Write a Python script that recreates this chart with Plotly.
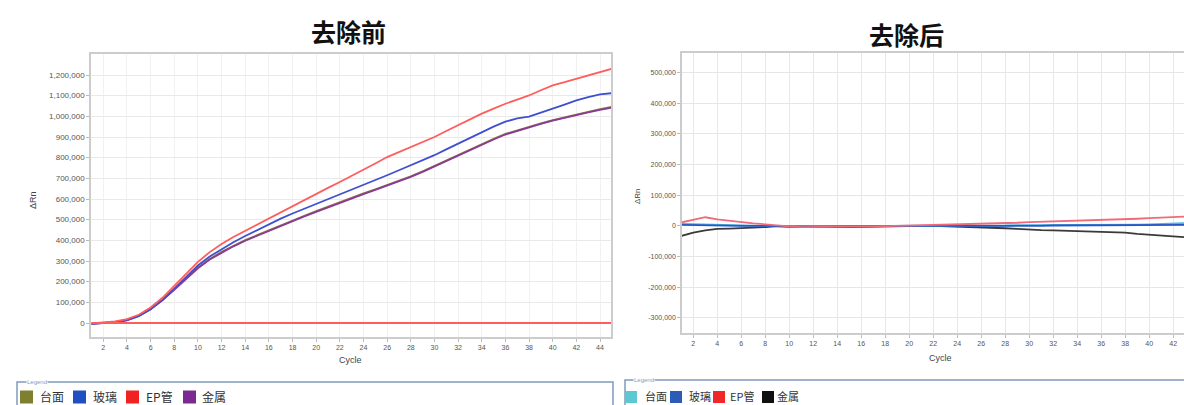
import plotly.graph_objects as go

W, H = 1184, 405

# ---------------- data ----------------
series_names = ["台面", "玻璃", "EP管", "金属"]

cycles_before = list(range(1, 46))
before_taimian = [-3000, 0, 5000, 15000, 35000, 68000, 112000, 163000, 218000, 268000,
                  310000, 344000, 374000, 401000, 425000, 449000, 473000, 497000, 519000, 541000,
                  563000, 585000, 606000, 627000, 647000, 667000, 689000, 710000, 734000, 760000,
                  788000, 815000, 841000, 866000, 891000, 915000, 933000, 950000, 966000, 982000,
                  996000, 1010000, 1023000, 1035000, 1046000]
before_boli = [-4000, -1000, 3000, 13000, 33000, 66000, 112000, 166000, 224000, 278000,
               322000, 358000, 391000, 421000, 450000, 478000, 505000, 530000, 553000, 576000,
               598000, 620000, 643000, 667000, 691000, 715000, 739000, 763000, 787000, 812000,
               840000, 868000, 896000, 924000, 950000, 974000, 990000, 999000, 1017000, 1037000,
               1057000, 1077000, 1093000, 1106000, 1112000]
before_ep = [-2000, 2000, 8000, 19000, 40000, 75000, 122000, 180000, 240000, 296000,
             343000, 382000, 416000, 446000, 476000, 507000, 538000, 568000, 597000, 626000,
             654000, 682000, 711000, 741000, 772000, 803000, 828000, 852000, 876000, 900000,
             929000, 957000, 985000, 1013000, 1037000, 1061000, 1081000, 1101000, 1126000, 1150000,
             1166000, 1182000, 1199000, 1215000, 1230000]
before_jinshu = [-4000, -1000, 4000, 14000, 34000, 67000, 110000, 161000, 215000, 265000,
                 307000, 341000, 371000, 398000, 422000, 446000, 470000, 494000, 516000, 538000,
                 560000, 582000, 603000, 624000, 644000, 664000, 686000, 707000, 731000, 757000,
                 785000, 812000, 838000, 863000, 888000, 912000, 930000, 947000, 963000, 979000,
                 993000, 1006000, 1019000, 1031000, 1042000]
before_ep_blank = [0, 0, 0, 0, 0, 0, 0, 0, 0, 0, 0, 0, 0, 0, 0,
                   0, 0, 0, 0, 0, 0, 0, 0, 0, 0, 0, 0, 0, 0, 0,
                   0, 0, 0, 0, 0, 0, 0, 0, 0, 0, 0, 0, 0, 0, 0]

cycles_after = list(range(1, 44))
after_taimian = [6000, 5000, 3000, 3000, 2000, 1000, 1000, 0, 0, -1000,
                 -1000, -1000, -1000, -1000, -1000, -1000, 0, 0, 0, 0,
                 0, 0, 0, 0, 1000, 1000, 1000, 1000, 2000, 2000,
                 2000, 2000, 3000, 3000, 3000, 3000, 4000, 4000, 4000, 5000,
                 6000, 8000, 9000]
after_boli = [3000, 2000, 1000, 1000, 1000, 0, 0, 0, -1000, -3000,
              -3000, -3000, -3000, -3000, -3000, -3000, -3000, -1000, 0, 0,
              0, 0, -2000, -2000, -2000, -2000, -2000, -1000, 0, 0,
              0, 1000, 1000, 1000, 1000, 2000, 2000, 2000, 2000, 2000,
              3000, 3000, 3000]
after_ep = [11000, 20000, 28000, 21000, 16000, 11000, 8000, 5000, 1000, -2000,
            -4000, -4000, -4000, -4000, -3000, -3000, -2000, -1000, 0, 0,
            0, 1000, 2000, 3000, 4000, 6000, 8000, 9000, 10000, 12000,
            13000, 14000, 16000, 17000, 18000, 19000, 20000, 22000, 23000, 25000,
            27000, 29000, 30000]
after_jinshu = [-33000, -22000, -15000, -10000, -9000, -8000, -6000, -4000, -1000, -2000,
                -3000, -3000, -4000, -4000, -4000, -3000, -2000, -1000, 0, 0,
                0, 0, -1000, -2000, -3000, -4000, -6000, -8000, -10000, -13000,
                -14000, -15000, -16000, -18000, -19000, -20000, -21000, -22000, -26000, -29000,
                -31000, -34000, -37000]

before_line_colors = ["#8a7f3a", "#3f4fd0", "#ff5c5c", "#8a3a9a"]
before_key_colors = ["#7f7f30", "#1f4fc0", "#f02222", "#7a2a90"]
after_line_colors = ["#4cb4e6", "#2a55c4", "#f06a78", "#3a3a3a"]
after_key_colors = ["#5cc8d0", "#2a5cb8", "#f02828", "#111111"]

before_ticks_y = [0, 100000, 200000, 300000, 400000, 500000, 600000,
                  700000, 800000, 900000, 1000000, 1100000, 1200000]
after_ticks_y = [-300000, -200000, -100000, 0, 100000, 200000, 300000, 400000, 500000]
before_ticks_x = list(range(2, 45, 2))
after_ticks_x = list(range(2, 45, 2))


def px(x):
    return x / W


def py(y):
    return 1 - y / H


fig = go.Figure()

before_series = [before_taimian, before_jinshu, before_boli, before_ep]
before_order = [0, 3, 1, 2]
for idx, ys in zip(before_order, before_series):
    fig.add_trace(go.Scatter(x=cycles_before, y=ys, mode="lines", name=series_names[idx],
                             line=dict(color=before_line_colors[idx], width=1.8),
                             showlegend=False, xaxis="x", yaxis="y"))
fig.add_trace(go.Scatter(x=cycles_before, y=before_ep_blank, mode="lines", name=series_names[2],
                         line=dict(color=before_line_colors[2], width=1.8),
                         showlegend=False, xaxis="x", yaxis="y"))

after_series = [after_jinshu, after_taimian, after_boli, after_ep]
after_order = [3, 0, 1, 2]
for idx, ys in zip(after_order, after_series):
    fig.add_trace(go.Scatter(x=cycles_after, y=ys, mode="lines", name=series_names[idx],
                             line=dict(color=after_line_colors[idx], width=1.8),
                             showlegend=False, xaxis="x2", yaxis="y2"))

frame = "#cccccc"
tick_font = dict(family="Liberation Sans, Arial, sans-serif", size=8, color="#555555")
xtick_font = dict(family="Liberation Sans, Arial, sans-serif", size=7, color="#555555")

fig.update_layout(
    width=W, height=H, autosize=False,
    margin=dict(l=0, r=0, t=0, b=0),
    paper_bgcolor="white", plot_bgcolor="white",
    showlegend=False,
    xaxis=dict(domain=[px(91), px(611)], range=[0.96, 44.93], anchor="y",
               tickmode="array", tickvals=before_ticks_x,
               showgrid=True, gridcolor="#f1f1f1", gridwidth=1,
               showline=True, linecolor=frame, linewidth=1.5, mirror=True,
               ticks="outside", ticklen=3, tickcolor="#bbbbbb",
               tickfont=xtick_font, zeroline=False),
    yaxis=dict(domain=[py(337), py(54)], range=[-67700, 1301600], anchor="x",
               tickmode="array", tickvals=before_ticks_y,
               ticktext=[f"{v:,}" for v in before_ticks_y],
               showgrid=True, gridcolor="#e9e9e9", gridwidth=1,
               showline=True, linecolor=frame, linewidth=1.5, mirror=True,
               ticks="outside", ticklen=3, tickcolor="#bbbbbb",
               tickfont=tick_font, zeroline=False),
    xaxis2=dict(domain=[px(682), 1.0], range=[1.06, 42.9], anchor="y2",
                tickmode="array", tickvals=after_ticks_x,
                showgrid=True, gridcolor="#e8e8e8", gridwidth=1,
                showline=True, linecolor=frame, linewidth=1.5, mirror=True,
                ticks="outside", ticklen=3, tickcolor="#bbbbbb",
                tickfont=xtick_font, zeroline=False),
    yaxis2=dict(domain=[py(333), py(53)], range=[-350000, 564300], anchor="x2",
                tickmode="array", tickvals=after_ticks_y,
                ticktext=[f"{v:,}" for v in after_ticks_y],
                showgrid=True, gridcolor="#e6e6e6", gridwidth=1,
                showline=True, linecolor=frame, linewidth=1.5, mirror=False,
                ticks="outside", ticklen=3, tickcolor="#bbbbbb",
                tickfont=dict(family="Liberation Sans, Arial, sans-serif", size=7, color="#555555"),
                zeroline=False),
)

cjk = "Noto Sans CJK SC, sans-serif"
annotations = [
    dict(text="<b>去除前</b>", x=px(349), y=py(31), font=dict(family=cjk, size=25, color="#111111")),
    dict(text="<b>去除后</b>", x=px(906), y=py(34), font=dict(family=cjk, size=25, color="#111111")),
    dict(text="Cycle", x=px(350), y=py(360), font=dict(family="Liberation Sans, Arial", size=9, color="#444444")),
    dict(text="Cycle", x=px(940), y=py(358), font=dict(family="Liberation Sans, Arial", size=9, color="#444444")),
    dict(text="ΔRn", x=px(33), y=py(200), textangle=-90, font=dict(family="Liberation Sans, Arial", size=9, color="#444444")),
    dict(text="ΔRn", x=px(637), y=py(196), textangle=-90, font=dict(family="Liberation Sans, Arial", size=8, color="#444444")),
]

# legend panels drawn below each chart
legend_line = "#7f9cbf"
shapes = []
legend_panels = [
    dict(x0=17, x1=613, top=382, label_x=26, keys=before_key_colors,
         key_x=[20, 73, 126, 183], text_x=[38, 91, 144, 200], key=13, font=12),
    dict(x0=625, x1=1200, top=380, label_x=633, keys=after_key_colors,
         key_x=[625, 670, 713, 762], text_x=[643, 687, 728, 775], key=12, font=11),
]
row_y = 396
for panel in legend_panels:
    shapes.append(dict(type="rect", xref="paper", yref="paper",
                       x0=px(panel["x0"]), x1=px(panel["x1"]), y0=py(420), y1=py(panel["top"]),
                       line=dict(color=legend_line, width=1.5), fillcolor="rgba(0,0,0,0)", layer="above"))
    annotations.append(dict(text="Legend", x=px(panel["label_x"]), y=py(panel["top"]), xanchor="left",
                            bgcolor="white", borderpad=0,
                            font=dict(family="Liberation Sans, Arial", size=6, color="#7f9cbf")))
    k = panel["key"]
    for name, col, kx, tx in zip(series_names, panel["keys"], panel["key_x"], panel["text_x"]):
        shapes.append(dict(type="rect", xref="paper", yref="paper",
                           x0=px(kx), x1=px(kx + k), y0=py(row_y + 1 + k / 2), y1=py(row_y + 1 - k / 2),
                           line=dict(width=0), fillcolor=col, layer="above"))
        annotations.append(dict(text=name, x=px(tx), y=py(row_y), xanchor="left",
                                font=dict(family=cjk, size=panel["font"], color="#333333")))

for a in annotations:
    a.setdefault("xref", "paper")
    a.setdefault("yref", "paper")
    a.setdefault("showarrow", False)
    a.setdefault("xanchor", "center")
    a.setdefault("yanchor", "middle")

fig.update_layout(annotations=annotations, shapes=shapes)

fig.write_html("out.html")
